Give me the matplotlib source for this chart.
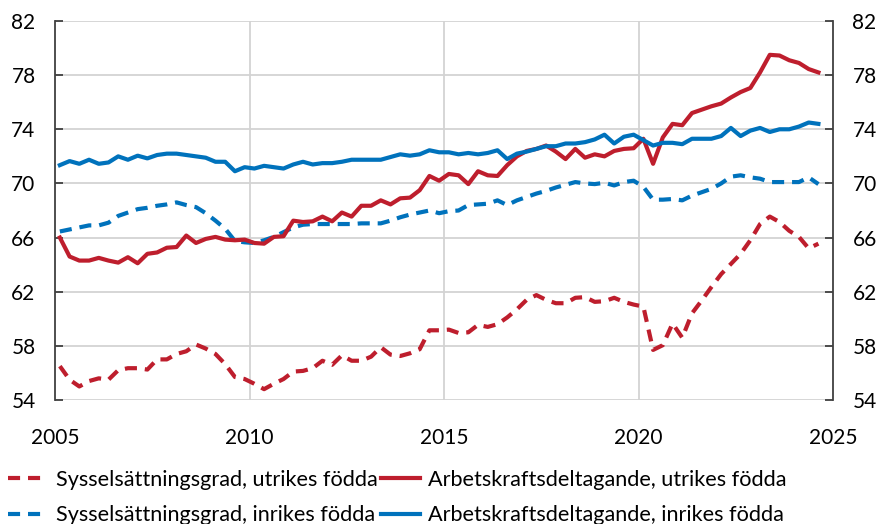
import matplotlib
matplotlib.use("Agg")
import matplotlib.pyplot as plt
import numpy as np
import pandas as pd

plt.rcParams['font.family'] = ['Lato', 'DejaVu Sans']

# kvartal 2005K1 - 2024K3
kvartal = pd.period_range('2005Q1', '2024Q3', freq='Q')

# Sysselsättningsgrad, utrikes födda
syss_utrikes = [56.5, 55.5, 55.0, 55.4, 55.6, 55.5, 56.2, 56.35, 56.35, 56.25,
                57.0, 57.0, 57.4, 57.6, 58.1, 57.8, 57.4, 56.65, 55.7, 55.55,
                55.2, 54.8, 55.2, 55.55, 56.1, 56.15, 56.35, 56.9, 56.6, 57.3,
                56.9, 56.9, 57.2, 57.9, 57.35, 57.25, 57.45, 57.75, 59.15, 59.15,
                59.2, 58.95, 59.0, 59.55, 59.4, 59.6, 60.1, 60.7, 61.4, 61.75,
                61.4, 61.15, 61.15, 61.55, 61.6, 61.25, 61.3, 61.55, 61.25, 61.05,
                60.9, 57.7, 58.05, 59.65, 58.6, 60.4, 61.35, 62.35, 63.3, 64.05,
                64.8, 65.8, 67.0, 67.55, 67.15, 66.5, 66.05, 65.2, 65.55]

# Arbetskraftsdeltagande, utrikes födda
ak_utrikes = [66.0, 64.6, 64.3, 64.3, 64.5, 64.3, 64.15, 64.55, 64.1, 64.8,
              64.9, 65.25, 65.3, 66.15, 65.6, 65.9, 66.05, 65.85, 65.8, 65.85,
              65.6, 65.55, 66.05, 66.1, 67.25, 67.15, 67.2, 67.55, 67.2, 67.85,
              67.55, 68.35, 68.35, 68.75, 68.45, 68.9, 68.95, 69.5, 70.55, 70.2,
              70.7, 70.6, 69.95, 70.9, 70.6, 70.55, 71.35, 72.0, 72.4, 72.55,
              72.8, 72.35, 71.8, 72.55, 71.9, 72.15, 72.0, 72.4, 72.55, 72.6,
              73.3, 71.45, 73.4, 74.4, 74.3, 75.2, 75.45, 75.7, 75.9, 76.35,
              76.75, 77.05, 78.2, 79.5, 79.45, 79.1, 78.9, 78.45, 78.2]

# Sysselsättningsgrad, inrikes födda
syss_inrikes = [66.45, 66.6, 66.75, 66.9, 66.9, 67.1, 67.6, 67.85, 68.1, 68.2,
                68.35, 68.45, 68.6, 68.4, 68.25, 67.8, 67.25, 66.65, 65.75, 65.65,
                65.6, 65.8, 66.05, 66.4, 66.75, 66.95, 67.0, 67.0, 67.0, 67.0,
                67.0, 67.05, 67.05, 67.05, 67.25, 67.5, 67.7, 67.85, 68.0, 67.8,
                67.95, 68.0, 68.4, 68.45, 68.5, 68.75, 68.4, 68.75, 69.0, 69.25,
                69.45, 69.7, 69.9, 70.1, 70.0, 69.95, 70.05, 69.85, 70.1, 70.2,
                69.75, 68.8, 68.8, 68.85, 68.75, 69.1, 69.35, 69.6, 70.0, 70.5,
                70.6, 70.45, 70.35, 70.1, 70.1, 70.1, 70.1, 70.45, 69.95]

# Arbetskraftsdeltagande, inrikes födda
ak_inrikes = [71.35, 71.65, 71.45, 71.75, 71.45, 71.55, 72.0, 71.75, 72.05, 71.85,
              72.1, 72.2, 72.2, 72.1, 72.0, 71.9, 71.6, 71.6, 70.9, 71.2,
              71.1, 71.3, 71.2, 71.1, 71.4, 71.6, 71.4, 71.5, 71.5, 71.6,
              71.75, 71.75, 71.75, 71.75, 71.95, 72.15, 72.05, 72.15, 72.45, 72.3,
              72.3, 72.15, 72.25, 72.15, 72.25, 72.45, 71.8, 72.2, 72.35, 72.55,
              72.75, 72.75, 72.95, 72.95, 73.05, 73.25, 73.6, 72.95, 73.45, 73.6,
              73.2, 72.8, 73.0, 73.0, 72.9, 73.3, 73.3, 73.3, 73.5, 74.1,
              73.5, 73.9, 74.1, 73.8, 74.0, 74.0, 74.2, 74.5, 74.4]

x = kvartal.year + (kvartal.quarter - 0.5) / 4

rod = '#BE1E2D'
bla = '#0072BC'
streck = (2.9, 1.9)

fig = plt.figure(figsize=(8.82, 5.24), dpi=100)
ax = fig.add_axes([55/882, 1 - 400/524, (833 - 55)/882, (400 - 21)/524])

ax.plot(x, syss_utrikes, color=rod, lw=3, dashes=streck,
        label='Sysselsättningsgrad, utrikes födda')
ax.plot(x, syss_inrikes, color=bla, lw=3, dashes=streck,
        label='Sysselsättningsgrad, inrikes födda')
ax.plot(x, ak_utrikes, color=rod, lw=3,
        label='Arbetskraftsdeltagande, utrikes födda')
ax.plot(x, ak_inrikes, color=bla, lw=3,
        label='Arbetskraftsdeltagande, inrikes födda')

ax.set_xlim(2005, 2025)
ax.set_ylim(54, 82)
ax.set_yticks(np.arange(54, 83, 4))
ax.set_xticks(np.arange(2005, 2026, 5))

# rutnät
for yy in np.arange(54, 83, 4):
    ax.axhline(yy, color='#D3D3D3', lw=1.3, zorder=0)
for xx in [2010, 2015, 2020]:
    ax.axvline(xx, color='#D3D3D3', lw=1.3, zorder=0)

for s in ['top', 'bottom']:
    ax.spines[s].set_visible(False)
for s in ['left', 'right']:
    ax.spines[s].set_color('#404040')
    ax.spines[s].set_linewidth(1.3)

ax.tick_params(axis='y', which='both', direction='in', left=True, right=True,
               labelleft=True, labelright=True, length=6, width=1.3,
               color='#404040', labelsize=15, pad=14)
ax.tick_params(axis='x', length=0, labelsize=15, pad=20)

fig.legend(loc='upper left', bbox_to_anchor=(8/882, 1 - 470/524), ncol=2,
           frameon=False, fontsize=15.6, handlelength=1.8, handletextpad=0.4,
           columnspacing=0.15, labelspacing=0.7, borderpad=0, borderaxespad=0)

fig.savefig('out.png', dpi=100)
